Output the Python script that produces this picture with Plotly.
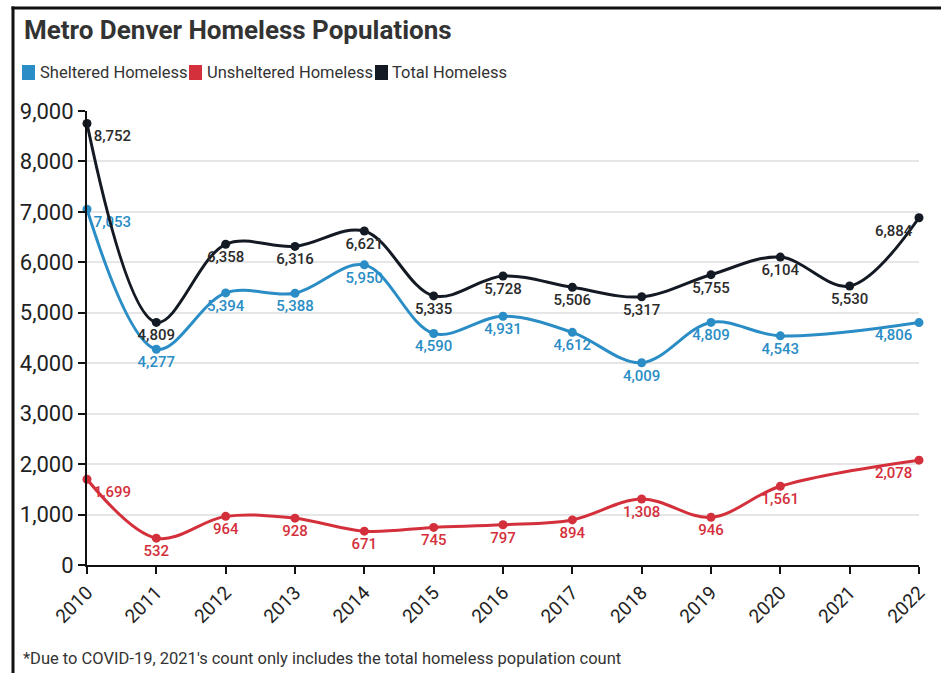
import plotly.graph_objects as go

years = [2010, 2011, 2012, 2013, 2014, 2015, 2016, 2017, 2018, 2019, 2020, 2021, 2022]
sheltered = [7053, 4277, 5394, 5388, 5950, 4590, 4931, 4612, 4009, 4809, 4543, None, 4806]
unsheltered = [1699, 532, 964, 928, 671, 745, 797, 894, 1308, 946, 1561, None, 2078]
total = [8752, 4809, 6358, 6316, 6621, 5335, 5728, 5506, 5317, 5755, 6104, 5530, 6884]
y_ticks = [0, 1000, 2000, 3000, 4000, 5000, 6000, 7000, 8000, 9000]
series_names = ["Sheltered Homeless", "Unsheltered Homeless", "Total Homeless"]

series = [
    (series_names[0], sheltered, "#2a8dc5", "#2a8dc5"),
    (series_names[1], unsheltered, "#d4303c", "#d4303c"),
    (series_names[2], total, "#141a24", "#2b2b2b"),
]

def positions(vals):
    pos = []
    n = len(vals)
    for i in range(n):
        if i == 0:
            pos.append("bottom right")
        elif i == n - 1:
            pos.append("bottom left")
        else:
            pos.append("bottom center")
    return pos

fig = go.Figure()
for name, vals, color, tcolor in series:
    fig.add_trace(go.Scatter(
        x=years, y=vals, mode="lines+markers+text", name=name,
        line=dict(color=color, width=3, shape="spline", smoothing=1),
        marker=dict(color=color, size=9),
        text=[("{:,}".format(v) if v is not None else "") for v in vals],
        textposition=positions(vals),
        textfont=dict(family="Roboto", size=15, color=tcolor, weight=500),
        connectgaps=True, cliponaxis=False, showlegend=False,
        hoverinfo="skip",
    ))

L, R, T, B = 87, 22, 111, 108
W, H = 941, 673
pw = W - L - R
ph = H - T - B

def px_x(p):
    return (p - L) / pw

def px_y(p):
    return (H - B - p) / ph

legend_swatch_x = [22, 189, 375]
legend_text_x = [38, 205, 390]
shapes = [
    dict(type="line", xref="paper", yref="paper", x0=px_x(13), x1=px_x(13), y0=px_y(6.5), y1=px_y(700),
         line=dict(color="#111111", width=3)),
    dict(type="line", xref="paper", yref="paper", x0=px_x(11.5), x1=px_x(960), y0=px_y(8), y1=px_y(8),
         line=dict(color="#111111", width=3)),
]
annotations = [
    dict(text="<b>Metro Denver Homeless Populations</b>", xref="paper", yref="paper",
         x=px_x(22), y=px_y(30), xanchor="left", yanchor="middle", showarrow=False,
         font=dict(family="Roboto", size=26, color="#333333")),
    dict(text="*Due to COVID-19, 2021's count only includes the total homeless population count",
         xref="paper", yref="paper", x=px_x(21), y=px_y(658), xanchor="left", yanchor="middle",
         showarrow=False, font=dict(family="Roboto", size=16.5, color="#333333")),
]
for (name, vals, color, tcolor), sx, tx in zip(series, legend_swatch_x, legend_text_x):
    shapes.append(dict(type="rect", xref="paper", yref="paper",
                       x0=px_x(sx), x1=px_x(sx + 13), y0=px_y(65), y1=px_y(80),
                       fillcolor=color, line=dict(width=0)))
    annotations.append(dict(text=name, xref="paper", yref="paper", x=px_x(tx), y=px_y(72.5),
                            xanchor="left", yanchor="middle", showarrow=False,
                            font=dict(family="Roboto", size=16.5, color="#333333")))

fig.update_layout(
    width=W, height=H,
    margin=dict(l=L, r=R, t=T, b=B, autoexpand=False),
    paper_bgcolor="white", plot_bgcolor="white",
    font=dict(family="Roboto", color="#333333"),
    showlegend=False,
    xaxis=dict(range=[2010, 2022], tickvals=years, tickangle=-45,
               tickfont=dict(family="Roboto", size=19, color="#222222"),
               showgrid=False, zeroline=False, showline=True, linecolor="#111111", linewidth=2,
               ticks="outside", ticklen=7, tickwidth=2, tickcolor="#111111"),
    yaxis=dict(range=[0, 9000], tickvals=y_ticks, tickformat=",",
               tickfont=dict(family="Roboto", size=22, color="#222222"),
               showgrid=True, gridcolor="#e6e6e6", gridwidth=1.5, zeroline=False,
               showline=True, linecolor="#111111", linewidth=2,
               ticks="outside", ticklen=7, tickwidth=2, tickcolor="#111111"),
    annotations=annotations,
    shapes=shapes,
)

fig.write_html("out.html", config={"displayModeBar": False},
               post_script="document.body.style.margin='0px';document.body.style.overflow='hidden';")
